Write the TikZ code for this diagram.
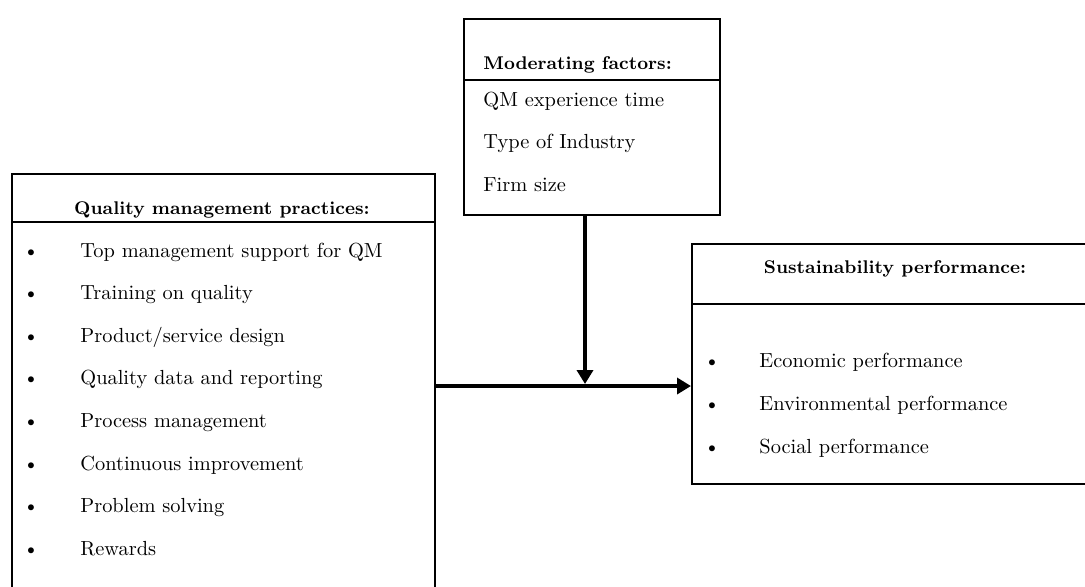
\documentclass[tikz,border=0pt]{standalone}
\usetikzlibrary{arrows.meta,positioning}
\tikzset{
  box/.style={draw,line width=1pt,inner sep=0pt,anchor=north west},
  rule/.style={line width=1pt},
  txt/.style={anchor=base west,inner sep=0pt,font=\fontsize{10.2}{12}\selectfont},
  head/.style={anchor=base,inner sep=0pt,font=\fontsize{9.2}{12}\selectfont\bfseries},
  dot/.style={anchor=base,inner sep=0pt,font=\fontsize{10.2}{12}\selectfont},
  flow/.style={line width=2pt,-{Triangle[length=7pt,width=8pt]}}
}
\begin{document}
\begin{tikzpicture}[x=0.5pt,y=-0.5pt]
  \clip (0,0) rectangle (1085,586);
  % boxes
  \node[box,minimum width=211.5pt,minimum height=230pt](qm)at(11,173){};
  \node[box,minimum width=128pt,minimum height=98pt](mf)at(463,18){};
  \node[box,minimum width=210pt,minimum height=120pt](sp)at(691,243){};
  \draw[rule]([yshift=-24.5pt]qm.north west)--([yshift=-24.5pt]qm.north east);
  \draw[rule]([yshift=-31pt]mf.north west)--([yshift=-31pt]mf.north east);
  \draw[rule]([yshift=-30.5pt]sp.north west)--([yshift=-30.5pt]sp.north east);
  % headings
  \node[head](qmhead)at(222,214){Quality management practices:};
  \node[head,anchor=base west](mfhead)at(483,69){Moderating factors:};
  \node[head](sphead)at(895,273){Sustainability performance:};
  % lists
  \foreach \t [count=\i] in {Top management support for QM,Training on quality,Product/service design,Quality data and reporting,Process management,Continuous improvement,Problem solving,Rewards}{
    \node[dot](qmb\i)at(31,{257+(\i-1)*42.6}){\textbullet};
    \node[txt](qm\i)at(80,{257+(\i-1)*42.6}){\t};
  }
  \foreach \t [count=\i] in {QM experience time,Type of Industry,Firm size}
    \node[txt](mf\i)at(483,{106+(\i-1)*42.5}){\t};
  \foreach \t [count=\i] in {Economic performance,Environmental performance,Social performance}{
    \node[dot](spb\i)at(712,{367+(\i-1)*43}){\textbullet};
    \node[txt](sp\i)at(759,{367+(\i-1)*43}){\t};
  }
  % connectors
  \coordinate(join)at(585,386);
  \draw[flow](qm.east|-join)--(sp.west|-join);
  \draw[flow,shorten >=1pt](mf.south-|join)--(join);
\end{tikzpicture}
\end{document}
